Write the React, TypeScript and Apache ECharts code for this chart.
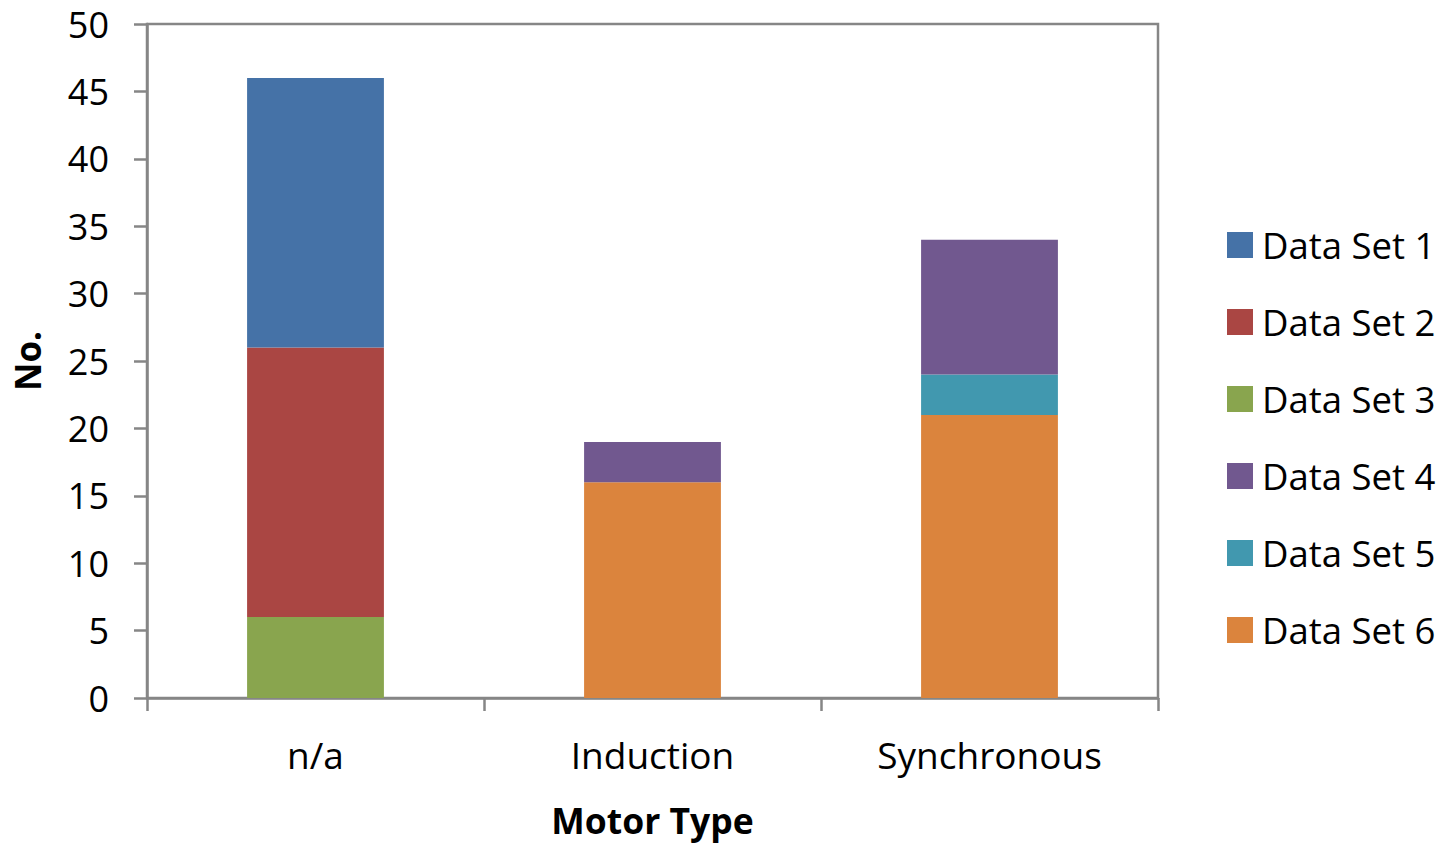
import React, { useEffect, useRef } from "react";
import * as echarts from "echarts";

const categories = ["n/a", "Induction", "Synchronous"];
const dataSet1 = [20, 0, 0];
const dataSet2 = [20, 0, 0];
const dataSet3 = [6, 0, 0];
const dataSet4 = [0, 3, 10];
const dataSet5 = [0, 0, 3];
const dataSet6 = [0, 16, 21];
const legendNames = ["Data Set 1", "Data Set 2", "Data Set 3", "Data Set 4", "Data Set 5", "Data Set 6"];
const colors: Record<string, string> = {
  "Data Set 1": "#4572A7",
  "Data Set 2": "#AA4643",
  "Data Set 3": "#89A54E",
  "Data Set 4": "#71588F",
  "Data Set 5": "#4198AF",
  "Data Set 6": "#DB843D",
};

const FONT = "Open Sans";

export default function App() {
  const ref = useRef<HTMLDivElement>(null);
  useEffect(() => {
    if (!ref.current) return;
    const chart = echarts.init(ref.current, null, { renderer: "svg" });
    // bottom-most series first
    const stackOrder: [string, number[]][] = [
      ["Data Set 6", dataSet6],
      ["Data Set 5", dataSet5],
      ["Data Set 4", dataSet4],
      ["Data Set 3", dataSet3],
      ["Data Set 2", dataSet2],
      ["Data Set 1", dataSet1],
    ];
    chart.setOption({
      animation: false,
      backgroundColor: "#ffffff",
      textStyle: { fontFamily: FONT },
      grid: {
        left: 147,
        right: 286,
        top: 24,
        bottom: 143,
        show: true,
        borderColor: "#868686",
        borderWidth: 2.5,
        backgroundColor: "transparent",
      },
      legend: {
        data: legendNames,
        orient: "vertical",
        left: 1222,
        top: 220,
        itemWidth: 26,
        itemHeight: 26,
        itemGap: 37,
        icon: "rect",
        textStyle: { fontFamily: FONT, fontSize: 36.5, color: "#000", lineHeight: 40, padding: [0, 0, 0, 4] },
      },
      xAxis: {
        type: "category",
        data: categories,
        name: "Motor Type",
        nameLocation: "middle",
        nameGap: 104,
        nameTextStyle: { fontFamily: FONT, fontSize: 35.5, fontWeight: "bold", color: "#000" },
        axisLine: { show: true, lineStyle: { color: "#868686", width: 2.5 } },
        axisTick: { show: true, alignWithLabel: false, length: 13, lineStyle: { color: "#868686", width: 2.5 } },
        axisLabel: { fontFamily: FONT, fontSize: 37, color: "#000", margin: 38 },
        splitLine: { show: false },
      },
      yAxis: {
        type: "value",
        min: 0,
        max: 50,
        interval: 5,
        name: "No.",
        nameLocation: "middle",
        nameRotate: 90,
        nameGap: 102,
        nameTextStyle: { fontFamily: FONT, fontSize: 35, fontWeight: "bold", color: "#000" },
        axisLine: { show: true, lineStyle: { color: "#868686", width: 2.5 } },
        axisTick: { show: true, length: 13, lineStyle: { color: "#868686", width: 2.5 } },
        axisLabel: { fontFamily: FONT, fontSize: 36, color: "#000", margin: 38 },
        splitLine: { show: false },
      },
      series: stackOrder.map(([name, data]) => ({
        name,
        type: "bar",
        stack: "total",
        data,
        barWidth: "40.6%",
        itemStyle: { color: colors[name] },
      })),
    });
    return () => chart.dispose();
  }, []);
  return (
    <div
      ref={ref}
      style={{ position: "fixed", left: 0, top: 0, width: 1444, height: 843, background: "#fff" }}
    />
  );
}
